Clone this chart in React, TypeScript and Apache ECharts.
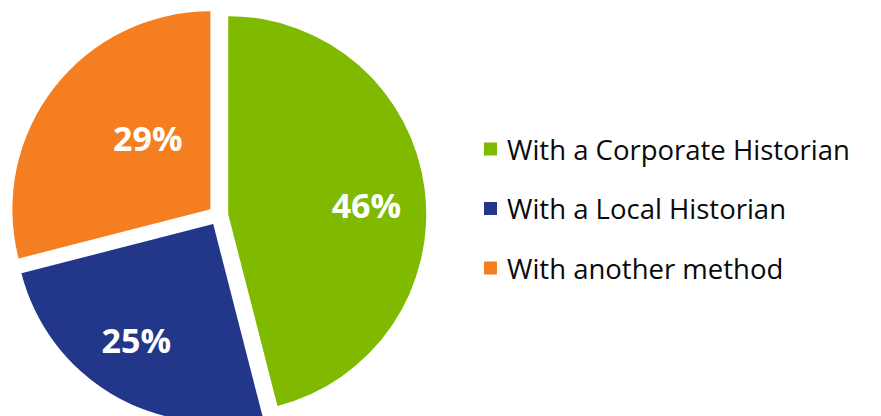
import React, { useEffect, useRef } from "react";
import * as echarts from "echarts";

const categories = ["With a Corporate Historian", "With a Local Historian", "With another method"];
const values = [46, 25, 29];
const colors = ["#80BA00", "#22378A", "#F47E20"];
// label nudges (px) relative to the library's default inside position
const labelShift = [
  [37, 4],
  [-25, 28],
  [18, -9],
];

export default function App() {
  const ref = useRef<HTMLDivElement>(null);
  useEffect(() => {
    if (!ref.current) return;
    const chart = echarts.init(ref.current, null, { renderer: "svg" });
    chart.setOption({
      animation: false,
      backgroundColor: "#ffffff",
      legend: {
        orient: "vertical",
        left: 484,
        top: 134,
        padding: 0,
        itemWidth: 13,
        itemHeight: 13,
        itemGap: 29.5,
        icon: "rect",
        selectedMode: false,
        data: categories,
        textStyle: {
          fontFamily: "Open Sans",
          fontSize: 27.5,
          lineHeight: 30,
          color: "#0a0a0a",
          padding: [0, 0, 0, 5],
        },
      },
      series: [
        {
          type: "pie",
          center: [218.3, 215.4],
          radius: 198,
          startAngle: 90,
          clockwise: true,
          selectedMode: "multiple",
          selectedOffset: 10,
          silent: true,
          emphasis: { disabled: true },
          label: {
            show: true,
            position: "inside",
            formatter: "{c}%",
            color: "#ffffff",
            fontFamily: "Open Sans",
            fontWeight: "bold",
            fontSize: 34,
          },
          labelLine: { show: false },
          labelLayout: (params: any) => {
            const s = labelShift[params.dataIndex] || [0, 0];
            return { dx: s[0], dy: s[1] };
          },
          data: categories.map((name, i) => ({
            name,
            value: values[i],
            selected: true,
            itemStyle: { color: colors[i] },
          })),
        },
      ],
    });
    return () => chart.dispose();
  }, []);
  return (
    <div
      ref={ref}
      style={{ position: "fixed", left: 0, top: 0, width: 881, height: 416 }}
    />
  );
}
